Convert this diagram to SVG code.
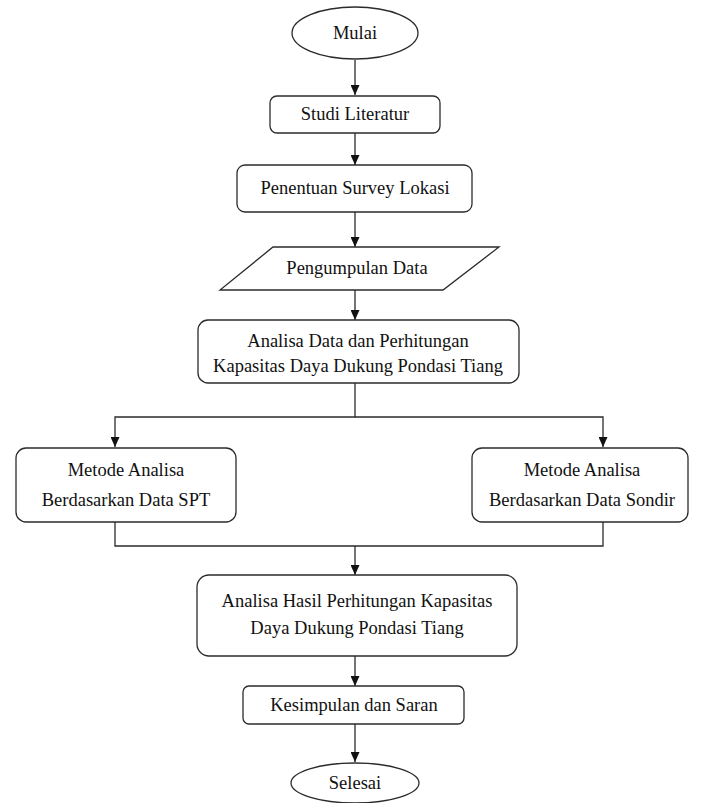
<svg xmlns="http://www.w3.org/2000/svg" width="704" height="803" viewBox="0 0 704 803">
<style>
.s{fill:#fff;stroke:#2b2b2b;stroke-width:1.3}
.t{font-family:'Liberation Serif',serif;font-size:18.5px;fill:#111;text-anchor:middle;dominant-baseline:central}
.c{fill:none;stroke:#2b2b2b;stroke-width:1.3}
</style>
<defs>
<marker id="ah" viewBox="0 0 10 10" refX="10" refY="5" markerWidth="10" markerHeight="9" markerUnits="userSpaceOnUse" orient="auto" preserveAspectRatio="none">
<path d="M0,0 L10,5 L0,10 z" fill="#111"/>
</marker>
</defs>
<rect width="704" height="803" fill="#fff"/>
<g id="connectors">
<line class="c" x1="355" y1="60" x2="355" y2="95" marker-end="url(#ah)"/>
<line class="c" x1="355" y1="133" x2="355" y2="165" marker-end="url(#ah)"/>
<line class="c" x1="355" y1="212" x2="355" y2="247" marker-end="url(#ah)"/>
<line class="c" x1="355" y1="290" x2="355" y2="320" marker-end="url(#ah)"/>
<polyline class="c" points="355,383 355,417 115,417 115,447" marker-end="url(#ah)"/>
<polyline class="c" points="355,417 603,417 603,447" marker-end="url(#ah)"/>
<polyline class="c" points="115,522 115,546 603,546 603,522"/>
<line class="c" x1="355" y1="546" x2="355" y2="575" marker-end="url(#ah)"/>
<line class="c" x1="355" y1="656" x2="355" y2="686" marker-end="url(#ah)"/>
<line class="c" x1="355" y1="724" x2="355" y2="762" marker-end="url(#ah)"/>
</g>
<g id="mulai">
<ellipse class="s" cx="355" cy="33" rx="63" ry="26"/>
<text class="t" x="355" y="33">Mulai</text>
</g>
<g id="studi">
<rect class="s" x="270" y="96" width="170" height="37" rx="7"/>
<text class="t" x="355" y="114">Studi Literatur</text>
</g>
<g id="penentuan">
<rect class="s" x="237" y="165" width="235" height="47" rx="8"/>
<text class="t" x="355" y="188">Penentuan Survey Lokasi</text>
</g>
<g id="pengumpulan">
<polygon class="s" points="273,247 499,247 443,290 220,290"/>
<text class="t" x="357" y="268">Pengumpulan Data</text>
</g>
<g id="analisa-data">
<rect class="s" x="198" y="320" width="321" height="63" rx="10"/>
<text class="t" x="358" y="341">Analisa Data dan Perhitungan</text>
<text class="t" x="358" y="366">Kapasitas Daya Dukung Pondasi Tiang</text>
</g>
<g id="metode-spt">
<rect class="s" x="16" y="448" width="220" height="74" rx="10"/>
<text class="t" x="126" y="470">Metode Analisa</text>
<text class="t" x="126" y="500">Berdasarkan Data SPT</text>
</g>
<g id="metode-sondir">
<rect class="s" x="472" y="448" width="216" height="74" rx="10"/>
<text class="t" x="582" y="470">Metode Analisa</text>
<text class="t" x="582" y="500">Berdasarkan Data Sondir</text>
</g>
<g id="analisa-hasil">
<rect class="s" x="197" y="575" width="320" height="81" rx="12"/>
<text class="t" x="357" y="601">Analisa Hasil Perhitungan Kapasitas</text>
<text class="t" x="357" y="628">Daya Dukung Pondasi Tiang</text>
</g>
<g id="kesimpulan">
<rect class="s" x="243" y="686" width="221" height="38" rx="6"/>
<text class="t" x="354" y="705">Kesimpulan dan Saran</text>
</g>
<g id="selesai">
<ellipse class="s" cx="355" cy="783" rx="64" ry="20"/>
<text class="t" x="355" y="783">Selesai</text>
</g>
</svg>
